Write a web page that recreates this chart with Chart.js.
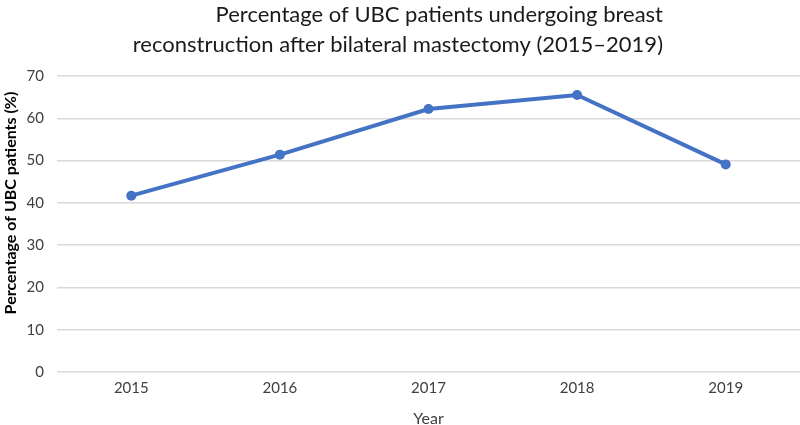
<!DOCTYPE html>
<html><head><meta charset="utf-8">
<script src="https://cdn.jsdelivr.net/npm/chart.js@4.4.0/dist/chart.umd.min.js"></script>
<style>html,body{margin:0;padding:0;background:#fff}#wrap{width:800px;height:425px}</style>
</head><body><div id="wrap"><canvas id="c" width="800" height="425"></canvas></div>
<script>
const years = ['2015', '2016', '2017', '2018', '2019'];
const reconstructionPct = [41.7, 51.4, 62.2, 65.5, 49.1];
const titleLines = ['Percentage of UBC patients undergoing breast', 'reconstruction after bilateral mastectomy (2015\u20132019)'];
const yTitle = 'Percentage of UBC patients (%)';
const xTitle = 'Year';

const FONT = 'Lato, "Open Sans", sans-serif';

const titlePlugin = {
  id: 'rightTitle',
  afterDraw(chart) {
    const ctx = chart.ctx;
    ctx.save();
    ctx.fillStyle = '#1a1a1a';
    ctx.font = '22px ' + FONT;
    ctx.textAlign = 'right';
    ctx.textBaseline = 'middle';
    ctx.fillText(titleLines[0], 663, 15);
    ctx.fillText(titleLines[1], 663, 45);
    // y axis title
    ctx.translate(11, 203);
    ctx.rotate(-Math.PI / 2);
    ctx.textAlign = 'center';
    ctx.fillStyle = '#000';
    ctx.font = 'bold 16px ' + FONT;
    ctx.fillText(yTitle, 0, 0);
    ctx.restore();
  }
};

new Chart(document.getElementById('c'), {
  type: 'line',
  data: {
    labels: years,
    datasets: [{
      data: reconstructionPct,
      borderColor: '#4472C4',
      backgroundColor: '#4472C4',
      borderWidth: 4,
      pointRadius: 5,
      pointBorderWidth: 0,
      tension: 0
    }]
  },
  options: {
    responsive: false,
    animation: false,
    layout: { padding: { top: 76, left: 0, right: 0, bottom: 0 }, autoPadding: false },
    plugins: { legend: { display: false }, title: { display: false }, tooltip: { enabled: false } },
    scales: {
      x: {
        offset: true,
        grid: { display: false, drawTicks: false },
        border: { display: false },
        ticks: { color: '#404040', font: { family: FONT, size: 15 }, padding: 7 },
        title: { display: true, text: xTitle, color: '#404040', font: { family: FONT, size: 16 }, padding: { top: 10, bottom: -3 } },
        afterFit(s) { s.height = 53; }
      },
      y: {
        min: 0, max: 70,
        ticks: { stepSize: 10, color: '#404040', font: { family: FONT, size: 15 }, padding: 13 },
        grid: { color: '#d9d9d9', lineWidth: 1.5, drawTicks: false },
        border: { display: false },
        title: { display: false },
        afterFit(s) { s.width = 57; }
      }
    }
  },
  plugins: [titlePlugin]
});
</script></body></html>
